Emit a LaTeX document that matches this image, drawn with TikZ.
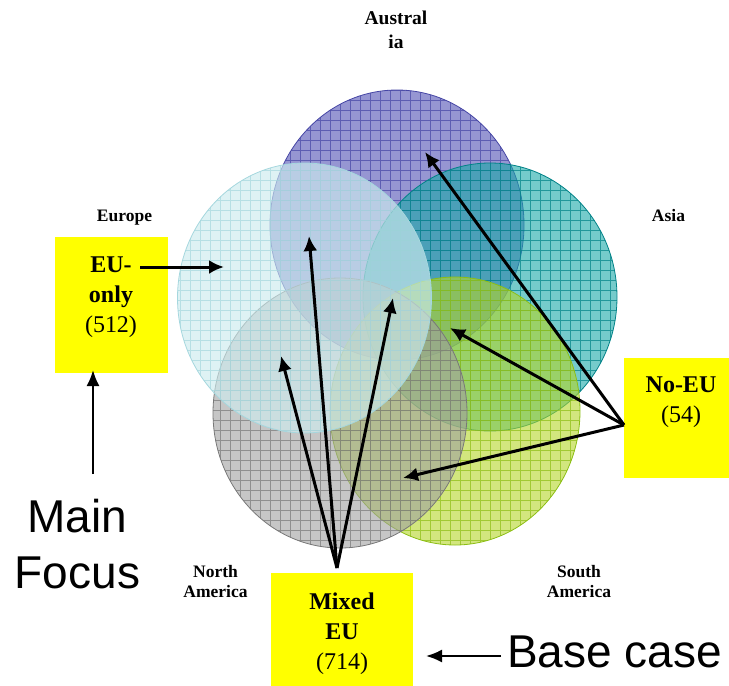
\documentclass[tikz,border=0pt]{standalone}
\usepackage{fontspec}
\setmainfont{Liberation Serif}
\newfontfamily\arialfont{Liberation Sans}
\usetikzlibrary{arrows.meta}

\definecolor{ausfill}{RGB}{150,150,210}
\definecolor{ausgrid}{RGB}{70,70,165}
\definecolor{asiafill}{RGB}{25,168,168}
\definecolor{asiagrid}{RGB}{0,130,135}
\definecolor{eufill}{RGB}{205,235,238}
\definecolor{eugrid}{RGB}{165,215,222}
\definecolor{nafill}{RGB}{160,160,160}
\definecolor{nagrid}{RGB}{120,120,120}
\definecolor{safill}{RGB}{180,213,40}
\definecolor{sagrid}{RGB}{140,190,20}
\definecolor{boxyellow}{RGB}{255,255,0}

\newcommand\drawvset[7]{%
  \fill[#5, fill opacity=#7] (#1,#2) ellipse [x radius=#3, y radius=#4];
  \begin{scope}
    \clip (#1,#2) ellipse [x radius=#3, y radius=#4];
    \draw[#6, line width=0.55pt, step=10pt, draw opacity=0.7] (#1-#3-5,#2-#4-5) grid (#1+#3+5,#2+#4+5);
  \end{scope}
  \draw[#6, line width=0.8pt] (#1,#2) ellipse [x radius=#3, y radius=#4];
}

\tikzset{
  region/.style={font=\bfseries\fontsize{17.5}{20}\selectfont, align=center, inner sep=0pt, anchor=base},
  ybox/.style={fill=boxyellow, draw=none, inner sep=0pt},
  boxtext/.style={font=\fontsize{24}{30}\selectfont, align=center, inner sep=0pt, anchor=base},
  bigsans/.style={font=\arialfont\fontsize{46}{56}\selectfont, align=center, inner sep=0pt, anchor=base},
  arr/.style={line width=3pt, -{Latex[length=15pt,width=14pt]}},
  thinarr/.style={line width=2pt, -{Latex[length=16pt,width=13pt]}},
}

\begin{document}
\begin{tikzpicture}[x=1pt,y=-1pt]
\useasboundingbox (0,0) rectangle (729,686);

% circles (Venn sets)
\drawvset{397}{225}{127}{135}{ausfill}{ausgrid}{1}
\drawvset{490}{297}{127}{134}{asiafill}{asiagrid}{0.6}
\drawvset{455}{411}{125}{134}{safill}{sagrid}{0.6}
\drawvset{340}{413}{127}{135}{nafill}{nagrid}{0.6}
\drawvset{304.5}{298}{127}{135}{eufill}{eugrid}{0.65}

% region labels (anchor = baseline of last line)
\node[region, font=\bfseries\fontsize{19.5}{24}\selectfont] (australia) at (396,48) {Austral\\ia};
\node[region] (europe) at (124.5,221) {Europe};
\node[region] (asia) at (668.5,221) {Asia};
\node[region] (northam) at (215.5,597) {North\\America};
\node[region] (southam) at (579,597) {South\\America};

% yellow boxes
\node[ybox, minimum width=113pt, minimum height=136pt] (eubox) at (111.5,305) {};
\node[boxtext] (eutext) at (111,332) {\textbf{EU-}\\\textbf{only}\\(512)};

\node[ybox, minimum width=142pt, minimum height=113pt] (mixbox) at (342,629.5) {};
\node[boxtext] (mixtext) at (342,669) {\textbf{Mixed}\\\textbf{EU}\\(714)};

\node[ybox, minimum width=105pt, minimum height=120pt] (noeubox) at (676.5,418) {};
\node[boxtext] (noeutext) at (681,422) {\textbf{No-EU}\\(54)};

% big sans labels
\node[bigsans] (mainfocus) at (77.5,588) {Main\\Focus};
\node[bigsans, anchor=base west] (basecase) at (507,667) {Base case};

% coordinates for connector ends
\coordinate (eusrc) at (140,267);
\coordinate (eutip) at (224,267);
\coordinate (mfsrc) at (93,474);
\coordinate (mftip) at (93,370);
\coordinate (bcsrc) at (501,656);
\coordinate (bctip) at (426,656);
\coordinate (mixsrc) at (337,568);
\coordinate (mixtipA) at (309,236);
\coordinate (mixtipB) at (393,298);
\coordinate (mixtipC) at (281,356);
\coordinate (noeusrc) at (624,425);
\coordinate (noeutipA) at (425,152);
\coordinate (noeutipB) at (450,328);
\coordinate (noeutipC) at (403,478);

% connectors
\draw[arr] (eusrc) -- (eutip);
\draw[thinarr] (mfsrc) -- (mftip);
\draw[thinarr] (bcsrc) -- (bctip);
\draw[arr] (mixsrc) -- (mixtipA);
\draw[arr] (mixsrc) -- (mixtipB);
\draw[arr] (mixsrc) -- (mixtipC);
\draw[arr] (noeusrc) -- (noeutipA);
\draw[arr] (noeusrc) -- (noeutipB);
\draw[arr] (noeusrc) -- (noeutipC);
\end{tikzpicture}
\end{document}
